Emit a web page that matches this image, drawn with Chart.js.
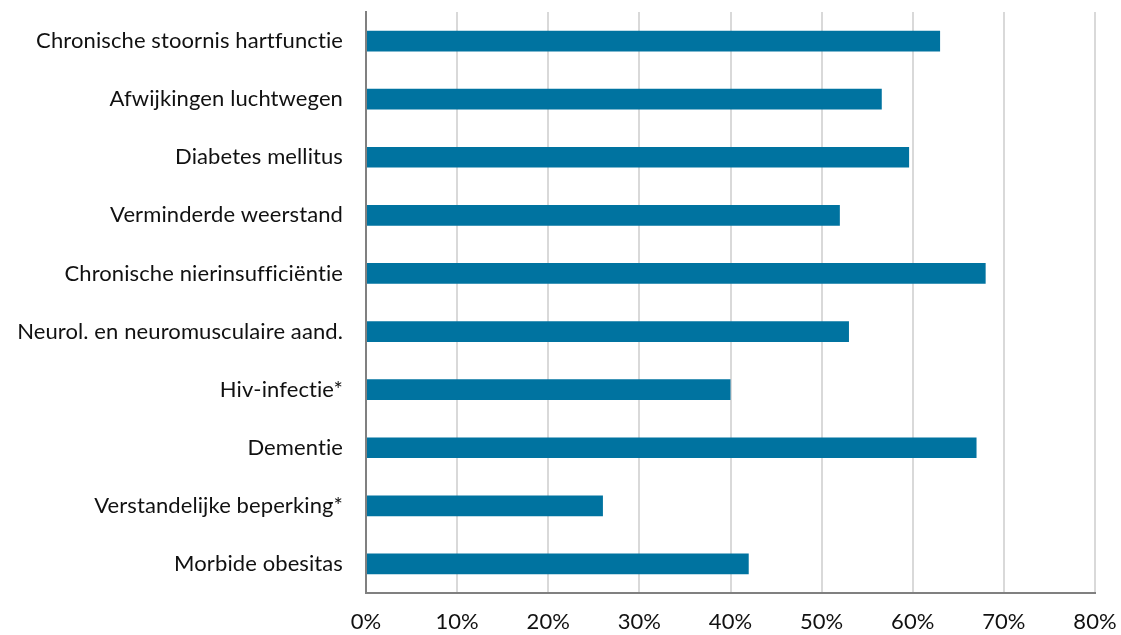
<!DOCTYPE html>
<html>
<head>
<meta charset="utf-8">
<script src="https://cdn.jsdelivr.net/npm/chart.js@4"></script>
<style>
  html, body { margin: 0; padding: 0; background: #fff; }
  #wrap { width: 1121px; height: 635px; }
</style>
</head>
<body>
<div id="wrap"><canvas id="barChart"></canvas></div>
<script>
const categories = [
  'Chronische stoornis hartfunctie',
  'Afwijkingen luchtwegen',
  'Diabetes mellitus',
  'Verminderde weerstand',
  'Chronische nierinsufficiëntie',
  'Neurol. en neuromusculaire aand.',
  'Hiv-infectie*',
  'Dementie',
  'Verstandelijke beperking*',
  'Morbide obesitas'
];
const percentages = [63, 56.6, 59.6, 52, 68, 53, 40, 67, 26, 42];
const tickValues = [0, 10, 20, 30, 40, 50, 60, 70, 80];

const ctx = document.getElementById('barChart');

// tiny letter spacing keeps Lato from joining "ti" and "ff" into ligatures
const noLigatures = {
  id: 'noLigatures',
  beforeDraw: (chart) => { chart.ctx.letterSpacing = '0.1px'; }
};

new Chart(ctx, {
  type: 'bar',
  data: {
    labels: categories,
    datasets: [{
      data: percentages,
      backgroundColor: '#0073a0',
      borderWidth: 0,
      categoryPercentage: 1,
      barPercentage: 0.356
    }]
  },
  options: {
    indexAxis: 'y',
    responsive: true,
    maintainAspectRatio: false,
    animation: false,
    layout: { padding: { top: 12, right: 26, left: 0, bottom: 0 } },
    plugins: {
      legend: { display: false },
      tooltip: { enabled: false }
    },
    scales: {
      x: {
        min: 0,
        max: 80,
        afterBuildTicks: (scale) => {
          scale.ticks = tickValues.map(v => ({ value: v }));
        },
        afterFit: (scale) => {
          scale.height = 42;
          scale.paddingLeft = 0;
          scale.paddingRight = 0;
        },
        ticks: {
          color: '#111111',
          font: { family: 'Lato', size: 22 },
          padding: 16,
          callback: (v) => v + '%'
        },
        grid: { color: '#d9d9d9', lineWidth: 2, drawTicks: false },
        border: { color: '#808080', width: 2 }
      },
      y: {
        afterFit: (scale) => {
          scale.width = 366;
          scale.paddingTop = 0;
          scale.paddingBottom = 0;
        },
        ticks: {
          color: '#111111',
          font: { family: 'Lato', size: 22 },
          padding: 23
        },
        grid: { display: false, drawTicks: false },
        border: { color: '#808080', width: 2 }
      }
    }
  },
  plugins: [noLigatures]
});
</script>
</body>
</html>
